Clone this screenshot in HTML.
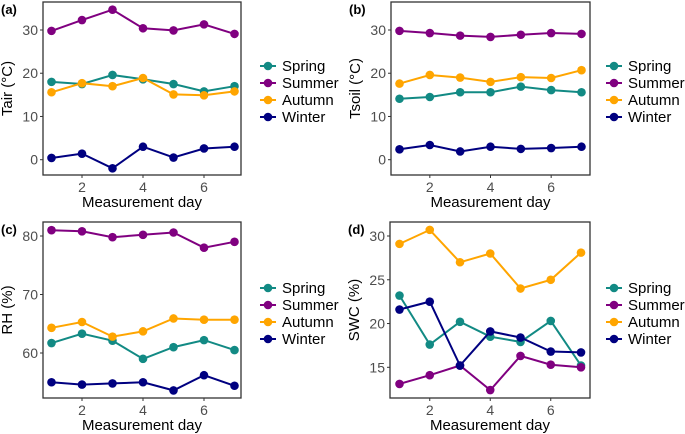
<!DOCTYPE html>
<html><head><meta charset="utf-8"><style>
html,body{margin:0;padding:0;background:#fff;}
svg{display:block;font-family:"Liberation Sans",Arial,sans-serif;}
</style></head><body>
<svg id="chart" width="685" height="434" viewBox="0 0 685 434"></svg>
<script>
const days = [1,2,3,4,5,6,7];
const seasons = ["Spring","Summer","Autumn","Winter"];
const seasonColors = ["#128a84","#800080","#ffa500","#000080"];
const tairSpring = [18,17.5,19.6,18.6,17.5,15.8,17];
const tairSummer = [29.8,32.3,34.7,30.4,29.9,31.3,29.1];
const tairAutumn = [15.6,17.7,17,18.9,15.1,14.9,15.8];
const tairWinter = [0.4,1.4,-2,3,0.5,2.6,3];
const tsoilSpring = [14.1,14.5,15.6,15.6,16.9,16.1,15.6];
const tsoilSummer = [29.8,29.3,28.7,28.4,28.9,29.3,29.1];
const tsoilAutumn = [17.6,19.6,19,18,19.1,18.9,20.7];
const tsoilWinter = [2.4,3.4,1.9,3,2.5,2.7,3];
const rhSpring = [61.7,63.3,62.1,59,61,62.2,60.5];
const rhSummer = [81,80.8,79.8,80.2,80.6,78,79];
const rhAutumn = [64.3,65.3,62.8,63.7,65.9,65.7,65.7];
const rhWinter = [55,54.6,54.8,55,53.6,56.2,54.4];
const swcSpring = [23.2,17.6,20.2,18.5,17.9,20.3,15.2];
const swcSummer = [13.1,14.1,15.2,12.4,16.3,15.3,15];
const swcAutumn = [29.1,30.7,27,28,24,25,28.1];
const swcWinter = [21.6,22.5,15.2,19.1,18.4,16.8,16.7];
const xTicks = [2,4,6];
const tairTicks = [0,10,20,30];
const tsoilTicks = [0,10,20,30];
const rhTicks = [60,70,80];
const swcTicks = [15,20,25,30];

const NS="http://www.w3.org/2000/svg";
const svg=document.getElementById('chart');
function mk(tag,attrs,parent){const e=document.createElementNS(NS,tag);for(const k in attrs)e.setAttribute(k,attrs[k]);(parent||svg).appendChild(e);return e;}

const panels=[
 {id:'a',label:'(a)',title:'Tair (°C)',series:[tairSpring,tairSummer,tairAutumn,tairWinter],ticks:tairTicks,
  box:[43,2,241,175],x0:1,px0:51.5,x1:7,px1:234.5,y0:0,py0:159.7,y1:30,py1:30,leg:[268,66]},
 {id:'b',label:'(b)',title:'Tsoil (°C)',series:[tsoilSpring,tsoilSummer,tsoilAutumn,tsoilWinter],ticks:tsoilTicks,
  box:[391,2,590,175],x0:1,px0:399.5,x1:7,px1:581.5,y0:0,py0:159.7,y1:30,py1:30,leg:[614,66]},
 {id:'c',label:'(c)',title:'RH (%)',series:[rhSpring,rhSummer,rhAutumn,rhWinter],ticks:rhTicks,
  box:[43,222,241,398],x0:1,px0:51.5,x1:7,px1:234.5,y0:60,py0:353,y1:80,py1:236,leg:[268,288]},
 {id:'d',label:'(d)',title:'SWC (%)',series:[swcSpring,swcSummer,swcAutumn,swcWinter],ticks:swcTicks,
  box:[390,222,590,398],x0:1,px0:399.5,x1:7,px1:581,y0:15,py0:367.3,y1:30,py1:236,leg:[614,288]}
];

panels.forEach(p=>{
  const g=mk('g',{});
  
  
  const xs=v=>p.px0+(v-p.x0)*(p.px1-p.px0)/(p.x1-p.x0);
  const ys=v=>p.py0+(v-p.y0)*(p.py1-p.py0)/(p.y1-p.y0);
  const [L,T,R,B]=p.box;
  const frame=mk('rect',{x:L,y:T,width:R-L,height:B-T,fill:'none',stroke:'#333',"stroke-width":1.3},g);
  
  
  const pl=mk('text',{x:L-42,y:T+12,"font-size":13,"font-weight":"bold",fill:'#000'},g);
  pl.textContent=p.label;
  
  
  p.ticks.forEach(t=>{
    const y=ys(t);
    mk('line',{x1:L-3,x2:L,y1:y,y2:y,stroke:'#333',"stroke-width":1},g);
    const tl=mk('text',{x:L-5,y:y+5,"text-anchor":"end","font-size":14,fill:'#4d4d4d'},g);
    tl.textContent=t;
    
    
  });
  xTicks.forEach(t=>{
    const x=xs(t);
    mk('line',{x1:x,x2:x,y1:B,y2:B+3,stroke:'#333',"stroke-width":1},g);
    const tl=mk('text',{x:x,y:B+17,"text-anchor":"middle","font-size":14,fill:'#4d4d4d'},g);
    tl.textContent=t;
    
    
  });
  const xt=mk('text',{x:(L+R)/2,y:B+32,"text-anchor":"middle","font-size":15,fill:'#000'},g);
  xt.textContent='Measurement day';
  
  
  const yt=mk('text',{x:0,y:0,"text-anchor":"middle","font-size":15,fill:'#000',transform:`translate(${L-31},${(T+B)/2}) rotate(-90)`},g);
  yt.textContent=p.title;
  
  
  p.series.forEach((vals,si)=>{
    const c=seasonColors[si];
    const pts=vals.map((v,i)=>xs(days[i]).toFixed(1)+','+ys(v).toFixed(1)).join(' ');
    const line=mk('polyline',{points:pts,fill:'none',stroke:c,"stroke-width":2},g);
    
    
    vals.forEach((v,i)=>{
      const pt=mk('circle',{cx:xs(days[i]),cy:ys(v),r:4.3,fill:c},g);
      
      
    });
  });
  const lg=mk('g',{},g);
  
  
  seasons.forEach((s,si)=>{
    const y=p.leg[1]+si*17;
    const e=mk('g',{},lg);
    
    
    mk('line',{x1:p.leg[0]-8,x2:p.leg[0]+8,y1:y,y2:y,stroke:seasonColors[si],"stroke-width":2},e);
    mk('circle',{cx:p.leg[0],cy:y,r:4.3,fill:seasonColors[si]},e);
    const t=mk('text',{x:p.leg[0]+14,y:y+5,"font-size":15,fill:'#000'},e);
    t.textContent=s;
  });
});
</script>
</body></html>
